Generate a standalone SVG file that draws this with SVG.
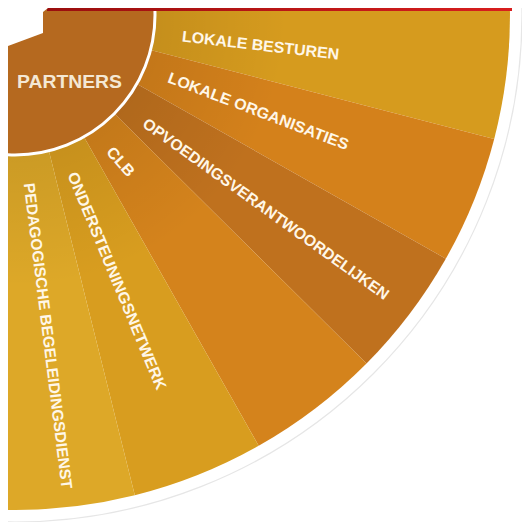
<svg xmlns="http://www.w3.org/2000/svg" width="522" height="522" viewBox="0 0 522 522">
  <defs>
    <clipPath id="frame"><rect x="8" y="8" width="514" height="514"/></clipPath>
    <radialGradient id="shade" gradientUnits="userSpaceOnUse" cx="15" cy="15" r="495">
      <stop offset="0.28" stop-color="#000" stop-opacity="0.08"/>
      <stop offset="0.55" stop-color="#000" stop-opacity="0"/>
    </radialGradient>
    <linearGradient id="redbar" x1="0" y1="0" x2="1" y2="0">
      <stop offset="0" stop-color="#9A0E0E"/>
      <stop offset="1" stop-color="#D81E1E"/>
    </linearGradient>
    <style>
      .lbl { font-family: "Liberation Sans", Arial, sans-serif; font-weight: bold; font-size: 15.6px; fill: #FFF7E8; }
      .shade { fill: url(#shade); }
    </style>
  </defs>
  <rect width="522" height="522" fill="#ffffff"/>
  <g clip-path="url(#frame)">
    <circle cx="15" cy="15" r="507" fill="#ffffff" stroke="#e6e6e6" stroke-width="1.2"/>
    <g id="lokale-besturen">
      <path d="M15,15 L509.3,-10.9 A495,495 0 0 1 494.2,138.9 Z" fill="#D69B1E"/>
      <path class="shade" d="M15,15 L509.3,-10.9 A495,495 0 0 1 494.2,138.9 Z"/>
      <text class="lbl" transform="translate(181.5,41.5) rotate(6.6)" textLength="158" lengthAdjust="spacingAndGlyphs">LOKALE BESTUREN</text>
    </g>
    <g id="lokale-organisaties">
      <path d="M15,15 L494.2,138.9 A495,495 0 0 1 445.8,258.7 Z" fill="#D4811B"/>
      <path class="shade" d="M15,15 L494.2,138.9 A495,495 0 0 1 445.8,258.7 Z"/>
      <text class="lbl" transform="translate(166.7,82) rotate(20.8)" textLength="192" lengthAdjust="spacingAndGlyphs">LOKALE ORGANISATIES</text>
    </g>
    <g id="opvoedingsverantwoordelijken">
      <path d="M15,15 L445.8,258.7 A495,495 0 0 1 366.5,363.5 Z" fill="#BF711E"/>
      <path class="shade" d="M15,15 L445.8,258.7 A495,495 0 0 1 366.5,363.5 Z"/>
      <text class="lbl" transform="translate(141.5,126) rotate(35.7)" textLength="299" lengthAdjust="spacingAndGlyphs">OPVOEDINGSVERANTWOORDELIJKEN</text>
    </g>
    <g id="clb">
      <path d="M15,15 L366.5,363.5 A495,495 0 0 1 258.7,445.8 Z" fill="#D4831C"/>
      <path class="shade" d="M15,15 L366.5,363.5 A495,495 0 0 1 258.7,445.8 Z"/>
      <text class="lbl" transform="translate(105.5,152.5) rotate(48.5)" textLength="34" lengthAdjust="spacingAndGlyphs">CLB</text>
    </g>
    <g id="ondersteuningsnetwerk">
      <path d="M15,15 L258.7,445.8 A495,495 0 0 1 134.8,495.3 Z" fill="#D89D1F"/>
      <path class="shade" d="M15,15 L258.7,445.8 A495,495 0 0 1 134.8,495.3 Z"/>
      <text class="lbl" transform="translate(67.3,174.8) rotate(67.5)" textLength="234" lengthAdjust="spacingAndGlyphs">ONDERSTEUNINGSNETWERK</text>
    </g>
    <g id="pedagogische-begeleidingsdienst">
      <path d="M15,15 L134.8,495.3 A495,495 0 0 1 -10.9,509.3 Z" fill="#DDA828"/>
      <path class="shade" d="M15,15 L134.8,495.3 A495,495 0 0 1 -10.9,509.3 Z"/>
      <text class="lbl" transform="translate(23.7,183.7) rotate(82.9)" textLength="308" lengthAdjust="spacingAndGlyphs">PEDAGOGISCHE BEGELEIDINGSDIENST</text>
    </g>
    <g id="partners">
      <circle cx="15" cy="15" r="140" fill="#B5691F" stroke="#ffffff" stroke-width="3"/>
      <text x="17" y="88" font-family="'Liberation Sans', Arial, sans-serif" font-weight="bold" font-size="18" fill="#F4E8D4" textLength="105" lengthAdjust="spacingAndGlyphs">PARTNERS</text>
    </g>
    <rect x="47" y="8" width="465" height="3" fill="url(#redbar)"/>
    <polygon points="8,8 48,8 43,12 43,33 8,46" fill="#ffffff"/>
  </g>
</svg>
